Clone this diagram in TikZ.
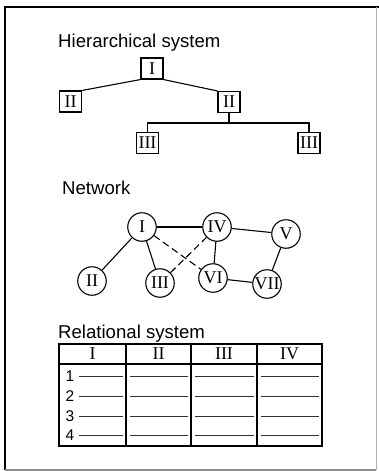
\documentclass[tikz,border=0pt]{standalone}
\usepackage{fontspec}
\newfontfamily\sansf{Liberation Sans}
\newfontfamily\romf{Liberation Serif}
\begin{document}
\begin{tikzpicture}[x=1pt,y=-1pt,
  title/.style={anchor=base west, inner sep=0pt, font=\sansf\fontsize{18.6}{22}\selectfont},
  rom/.style={font=\romf\fontsize{18}{21}\selectfont},
  hbox/.style={draw, rom, minimum width=22pt, minimum height=21pt, inner sep=0pt, line width=1.1pt},
  nd/.style={draw, circle, rom, minimum size=28.5pt, inner sep=0pt, line width=1.1pt},
  link/.style={line width=1.1pt},
  dlink/.style={line width=1.1pt, dash pattern=on 7pt off 4pt},
  rowline/.style={line width=0.9pt, black!80},
  digit/.style={font=\sansf\fontsize{15.5}{18}\selectfont, inner sep=0pt},
  hdr/.style={rom, inner sep=0pt},
  frame/.style={line width=1.4pt}]
\useasboundingbox (0,0) rectangle (379,471);
% frame
\draw[frame] (5,470) -- (5,7) -- (379,7);
\draw[frame, black!45] (5,470) -- (376,470);
\draw[line width=0.8pt, black!30] (376,7) -- (376,470);

% Hierarchical system
\node[title] (t1) at (58,47) {Hierarchical system};
\node[hbox] (h1) at (152,68.5) {I};
\node[hbox] (h2a) at (70.5,101.5) {II};
\node[hbox] (h2b) at (229,102) {II};
\node[hbox] (h3a) at (147.5,143) {III};
\node[hbox] (h3b) at (309,143) {III};
\coordinate (j) at (229,123);
\draw[link] (h1.south west) -- (h2a.north east);
\draw[link] (h1.south east) -- (h2b.north west);
\draw[link] (h2b.south) -- (j);
\draw[link] (h3a.north) |- (j) -| (h3b.north);

% Network
\node[title] (t2) at (62,194) {Network};
\node[nd] (n1) at (142,227) {I};
\node[nd] (n4) at (217,227) {IV};
\node[nd] (n5) at (286,234) {V};
\node[nd] (n2) at (92,281) {II};
\node[nd] (n3) at (160,283) {III};
\node[nd] (n6) at (213,278) {VI};
\node[nd] (n7) at (267,284) {VII};
\draw[link] (n1) -- (n4);
\draw[link] (n4) -- (n5);
\draw[link] (n1) -- (n2);
\draw[link] (n1) -- (n3);
\draw[link] (n4) -- (n6);
\draw[link] (n6) -- (n7);
\draw[link] (n5) -- (n7);
\draw[dlink] (n1) -- (n6);
\draw[dlink] (n3) -- (n4);

% Relational system
\node[title] (t3) at (58,338) {Relational system};
\draw[line width=1.2pt] (59,344) rectangle (322,446);
\draw[line width=1.2pt] (59,364) -- (322,364);
\draw[line width=1.2pt] (126,344) -- (126,446);
\draw[line width=1.2pt] (191,344) -- (191,446);
\draw[line width=1.2pt] (257,344) -- (257,446);
\node[hdr] (c1) at (92.5,354) {I};
\node[hdr] (c2) at (158.5,354) {II};
\node[hdr] (c3) at (224,354) {III};
\node[hdr] (c4) at (289.5,354) {IV};
\foreach \r/\y in {1/376,2/396,3/416,4/435} {
  \node[digit] (d\r) at (70,\y) {\r};
  \draw[rowline] (79,\y) -- (123,\y);
  \draw[rowline] (130,\y) -- (188,\y);
  \draw[rowline] (195,\y) -- (254,\y);
  \draw[rowline] (261,\y) -- (319,\y);
}
\end{tikzpicture}
\end{document}
